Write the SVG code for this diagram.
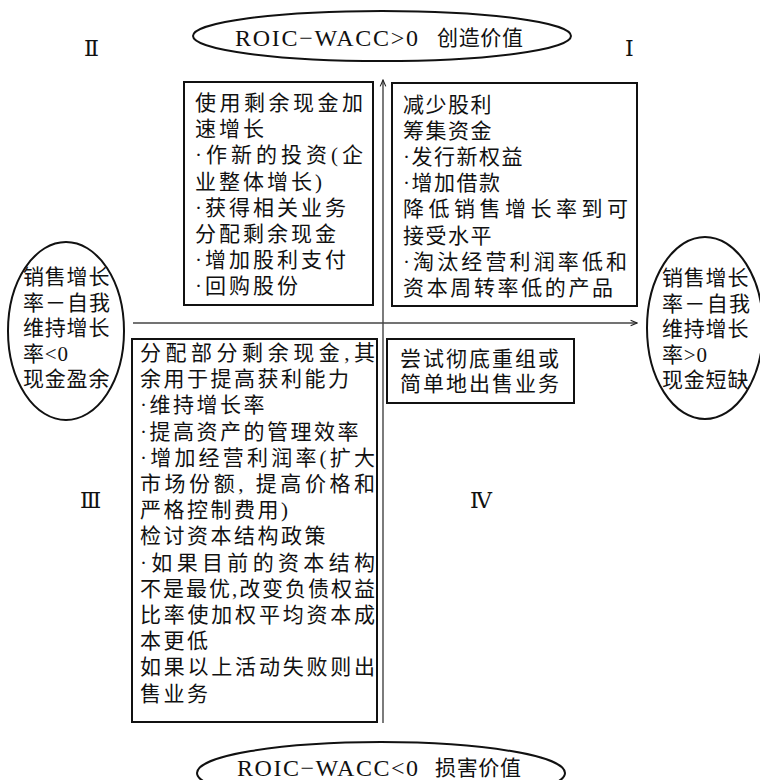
<svg xmlns="http://www.w3.org/2000/svg" width="760" height="780" viewBox="0 0 760 780">
<style>
  .t{font-family:"Liberation Serif","Noto Sans CJK SC",serif;font-size:21px;fill:#111}
  .lat{font-family:"Liberation Serif",serif;font-size:24px;fill:#111}
  .rn{font-family:"Liberation Serif","DejaVu Serif","Noto Sans CJK SC",serif;font-size:22px;fill:#111}
  .box{fill:#fff;stroke:#111;stroke-width:2}
  .ell{fill:#fff;stroke:#111;stroke-width:2}
  .ax{stroke:#444;stroke-width:1.4;fill:none}
  .b1 text{letter-spacing:1.5px}
  .b2 text{letter-spacing:3px}
  .b3 text{letter-spacing:2.5px}
  .b4 text{letter-spacing:2px}
  .e text{letter-spacing:0.8px}
  text.j{letter-spacing:0}
</style>
<defs>
  <marker id="arr" viewBox="0 0 10 10" refX="9" refY="5" markerWidth="8" markerHeight="8" markerUnits="userSpaceOnUse" orient="auto">
    <path d="M1,1.5 L9,5 L1,8.5" fill="none" stroke="#222" stroke-width="1.4"/>
  </marker>
</defs>
<rect width="760" height="780" fill="#fff"/>

<g id="connectors">
  <line class="ax" x1="383" y1="723" x2="383" y2="80" marker-end="url(#arr)"/>
  <line class="ax" x1="133" y1="323" x2="637" y2="323" marker-end="url(#arr)"/>
</g>

<g id="top-value">
  <ellipse class="ell" cx="382" cy="36" rx="189" ry="25"/>
  <text class="lat" x="235" y="45.5" textLength="183" lengthAdjust="spacing">ROIC−WACC&gt;0</text>
  <text class="t" x="437" y="45" textLength="86" lengthAdjust="spacing">创造价值</text>
</g>

<g id="bottom-value">
  <ellipse class="ell" cx="381" cy="773" rx="184" ry="31"/>
  <text class="lat" x="237" y="775.5" textLength="181" lengthAdjust="spacing">ROIC−WACC&lt;0</text>
  <text class="t" x="435" y="775" textLength="86" lengthAdjust="spacing">损害价值</text>
</g>

<g id="left-cash" class="e">
  <ellipse class="ell" cx="66" cy="331" rx="58" ry="89"/>
  <text class="t" x="23" y="284">销售增长</text>
  <text class="t j" x="23" y="309.5" textLength="87" lengthAdjust="spacing">率－自我</text>
  <text class="t" x="23" y="335">维持增长</text>
  <text class="t" x="23" y="360.5">率&lt;0</text>
  <text class="t" x="23" y="386">现金盈余</text>
</g>

<g id="right-cash" class="e">
  <ellipse class="ell" cx="705" cy="328" rx="58" ry="91"/>
  <text class="t" x="662" y="285">销售增长</text>
  <text class="t j" x="662" y="310.5" textLength="88" lengthAdjust="spacing">率－自我</text>
  <text class="t" x="662" y="336">维持增长</text>
  <text class="t" x="662" y="361.5">率&gt;0</text>
  <text class="t" x="662" y="387">现金短缺</text>
</g>

<g id="quadrant-labels">
  <text class="rn" x="84" y="56">Ⅱ</text>
  <text class="rn" x="625" y="56">Ⅰ</text>
  <text class="rn" x="80" y="508">Ⅲ</text>
  <text class="rn" x="470" y="508">Ⅳ</text>
</g>

<g id="box-II" class="b2">
  <rect class="box" x="184" y="82" width="189" height="223"/>
  <text class="t j" x="195" y="110" textLength="168" lengthAdjust="spacing">使用剩余现金加</text>
  <text class="t" x="195" y="136.2">速增长</text>
  <text class="t j" x="195" y="162.4" textLength="168" lengthAdjust="spacing">·作新的投资(企</text>
  <text class="t" x="195" y="188.6">业整体增长)</text>
  <text class="t" x="195" y="214.8">·获得相关业务</text>
  <text class="t" x="195" y="241">分配剩余现金</text>
  <text class="t" x="195" y="267.2">·增加股利支付</text>
  <text class="t" x="195" y="293.4">·回购股份</text>
</g>

<g id="box-I" class="b1">
  <rect class="box" x="392" y="83" width="245" height="223"/>
  <text class="t" x="403" y="112">减少股利</text>
  <text class="t" x="403" y="138.1">筹集资金</text>
  <text class="t" x="403" y="164.2">·发行新权益</text>
  <text class="t" x="403" y="190.3">·增加借款</text>
  <text class="t j" x="403" y="216.4" textLength="225" lengthAdjust="spacing">降低销售增长率到可</text>
  <text class="t" x="403" y="242.5">接受水平</text>
  <text class="t j" x="403" y="268.6" textLength="224" lengthAdjust="spacing">·淘汰经营利润率低和</text>
  <text class="t j" x="403" y="294.7" textLength="210" lengthAdjust="spacing">资本周转率低的产品</text>
</g>

<g id="box-III" class="b3">
  <rect class="box" x="132" y="339" width="245" height="383"/>
  <text class="t j" x="140" y="360" textLength="235" lengthAdjust="spacing">分配部分剩余现金,其</text>
  <text class="t" x="140" y="386.2">余用于提高获利能力</text>
  <text class="t" x="140" y="412.4">·维持增长率</text>
  <text class="t" x="140" y="438.6">·提高资产的管理效率</text>
  <text class="t j" x="140" y="464.8" textLength="235" lengthAdjust="spacing">·增加经营利润率(扩大</text>
  <text class="t j" x="140" y="491" textLength="235" lengthAdjust="spacing">市场份额, 提高价格和</text>
  <text class="t" x="140" y="517.2">严格控制费用)</text>
  <text class="t" x="140" y="543.4">检讨资本结构政策</text>
  <text class="t j" x="140" y="569.6" textLength="235" lengthAdjust="spacing">·如果目前的资本结构</text>
  <text class="t j" x="140" y="595.8" textLength="235" lengthAdjust="spacing">不是最优,改变负债权益</text>
  <text class="t j" x="140" y="622" textLength="235" lengthAdjust="spacing">比率使加权平均资本成</text>
  <text class="t" x="140" y="648.2">本更低</text>
  <text class="t j" x="140" y="674.4" textLength="235" lengthAdjust="spacing">如果以上活动失败则出</text>
  <text class="t" x="140" y="700.6">售业务</text>
</g>

<g id="box-IV" class="b4">
  <rect class="box" x="387" y="339" width="187" height="64"/>
  <text class="t" x="400" y="366">尝试彻底重组或</text>
  <text class="t" x="400" y="391">简单地出售业务</text>
</g>
</svg>
